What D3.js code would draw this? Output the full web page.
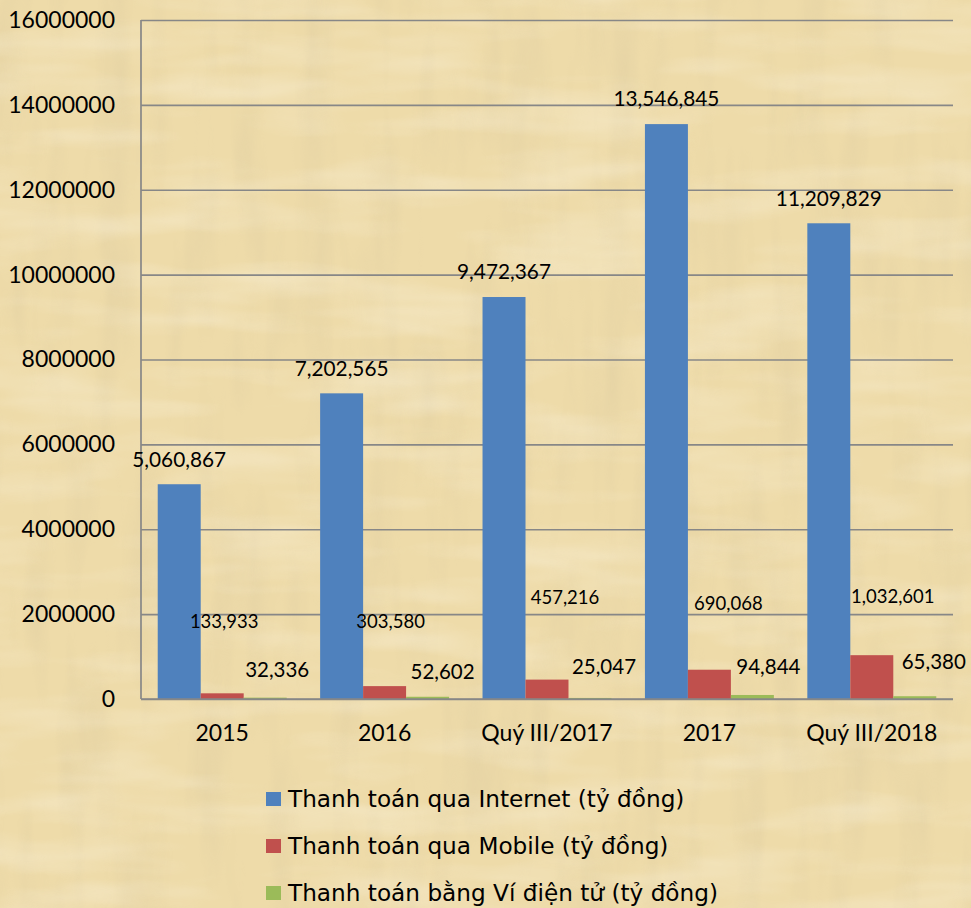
<!DOCTYPE html>
<html><head><meta charset="utf-8">
<script src="https://cdn.jsdelivr.net/npm/d3@7/dist/d3.min.js"></script>
<style>html,body{margin:0;padding:0;background:#EEDCAB;}svg{display:block;}</style>
</head><body>
<svg id="chart" width="971" height="908"></svg>
<script>
// ---- data ----
const categories = ["2015", "2016", "Quý III/2017", "2017", "Quý III/2018"];
const seriesNames = [
  "Thanh toán qua Internet (tỷ đồng)",
  "Thanh toán qua Mobile (tỷ đồng)",
  "Thanh toán bằng Ví điện tử (tỷ đồng)"
];
const internetValues = [5060867, 7202565, 9472367, 13546845, 11209829];
const mobileValues = [133933, 303580, 457216, 690068, 1032601];
const walletValues = [32336, 52602, 25047, 94844, 65380];
const yTicks = [0, 2000000, 4000000, 6000000, 8000000, 10000000, 12000000, 14000000, 16000000];

// ---- layout / style (not data) ----
const colors = ["#4F81BD", "#C0504D", "#9BBB59"];
// label nudges [dx from bar centre, dy relative to baseline]
const mobileLabelNudge = [[2, -77], [6, -77], [18, -101], [19, -95], [21, -102]];
const walletLabelNudge = [[12, -29], [15, -27], [14, -32], [16, -32], [19, -37]];

const svg = d3.select("#chart");
const W = 971, H = 908;
const plot = {left: 141, right: 953, top: 20, bottom: 699};

// background parchment
const defs = svg.append("defs");
const f = defs.append("filter").attr("id", "paper").attr("x", 0).attr("y", 0).attr("width", "100%").attr("height", "100%");
f.append("feTurbulence").attr("type", "fractalNoise").attr("baseFrequency", "0.03 0.006").attr("numOctaves", 3).attr("seed", 4).attr("result", "n1");
f.append("feColorMatrix").attr("in", "n1").attr("type", "matrix")
  .attr("values", "0 0 0 0 0.62  0 0 0 0 0.52  0 0 0 0 0.32  1.4 0 0 0 -0.62");
const f2 = defs.append("filter").attr("id", "paper2").attr("x", 0).attr("y", 0).attr("width", "100%").attr("height", "100%");
f2.append("feTurbulence").attr("type", "fractalNoise").attr("baseFrequency", "0.006 0.03").attr("numOctaves", 3).attr("seed", 9).attr("result", "n2");
f2.append("feColorMatrix").attr("in", "n2").attr("type", "matrix")
  .attr("values", "0 0 0 0 1  0 0 0 0 0.97  0 0 0 0 0.88  1.4 0 0 0 -0.6");

svg.append("rect").attr("width", W).attr("height", H).attr("fill", "#EEDBA9");
svg.append("rect").attr("width", W).attr("height", H).attr("filter", "url(#paper)").attr("opacity", 0.35);
svg.append("rect").attr("width", W).attr("height", H).attr("filter", "url(#paper2)").attr("opacity", 0.45);

// scales
const y = d3.scaleLinear().domain([0, 16000000]).range([plot.bottom, plot.top]);
const x0 = d3.scaleBand().domain(categories).range([plot.left, plot.right]).padding(0);
const bw = x0.bandwidth();
const x1 = d3.scaleBand().domain([0, 1, 2]).range([bw * 0.103, bw * 0.897]).padding(0);

const gridColor = "#878787";
// gridlines + y tick labels
const yAxis = d3.axisLeft(y).tickValues(yTicks).tickSize(-(plot.right - plot.left)).tickFormat(d => String(d)).tickPadding(26);
const gy = svg.append("g").attr("transform", `translate(${plot.left},0)`).call(yAxis);
gy.select(".domain").remove();
gy.selectAll(".tick line").attr("stroke", gridColor).attr("stroke-width", 1.7);
gy.selectAll(".tick text").attr("font-family", "Lato, sans-serif").attr("font-size", 23).attr("fill", "#000");

// left axis line
svg.append("line").attr("x1", plot.left).attr("x2", plot.left).attr("y1", plot.top).attr("y2", plot.bottom)
  .attr("stroke", gridColor).attr("stroke-width", 1.7);

// bars
const series = [internetValues, mobileValues, walletValues];
const groups = svg.append("g");
series.forEach((vals, s) => {
  groups.selectAll(null).data(vals).enter().append("rect")
    .attr("x", (d, i) => x0(categories[i]) + x1(s))
    .attr("width", x1.bandwidth())
    .attr("y", d => y(d))
    .attr("height", d => y(0) - y(d))
    .attr("fill", colors[s]);
});

// bottom axis line
svg.append("line").attr("x1", plot.left).attr("x2", plot.right).attr("y1", plot.bottom).attr("y2", plot.bottom)
  .attr("stroke", gridColor).attr("stroke-width", 1.7);

// category labels
const xAxis = d3.axisBottom(x0).tickSize(0).tickPadding(26);
const gx = svg.append("g").attr("transform", `translate(0,${plot.bottom})`).call(xAxis);
gx.select(".domain").remove();
gx.selectAll(".tick text").attr("font-family", "Lato, sans-serif").attr("font-size", 23).attr("fill", "#000");

// value labels
const fmt = d3.format(",");
const lab = svg.append("g").attr("font-family", "Lato, sans-serif").attr("fill", "#000").attr("text-anchor", "middle");
lab.selectAll(null).data(internetValues).enter().append("text")
  .attr("x", (d, i) => x0(categories[i]) + x1(0) + x1.bandwidth() / 2)
  .attr("y", d => y(d) - 25).attr("dy", "0.35em").attr("font-size", 20.8).text(d => fmt(d));
lab.selectAll(null).data(mobileValues).enter().append("text")
  .attr("x", (d, i) => x0(categories[i]) + x1(1) + x1.bandwidth() / 2 + mobileLabelNudge[i][0])
  .attr("y", (d, i) => y(0) + mobileLabelNudge[i][1]).attr("dy", "0.35em").attr("font-size", 18.5).text(d => fmt(d));
lab.selectAll(null).data(walletValues).enter().append("text")
  .attr("x", (d, i) => x0(categories[i]) + x1(2) + x1.bandwidth() / 2 + walletLabelNudge[i][0])
  .attr("y", (d, i) => y(0) + walletLabelNudge[i][1]).attr("dy", "0.35em").attr("font-size", 20.5).text(d => fmt(d));

// legend
const legend = svg.append("g").attr("transform", "translate(266,799)");
seriesNames.forEach((name, i) => {
  const g = legend.append("g").attr("transform", `translate(0,${i * 47})`);
  g.append("rect").attr("x", 0).attr("y", -7).attr("width", 15).attr("height", 14).attr("fill", colors[i]);
  g.append("text").attr("x", 22).attr("y", 0).attr("dy", "0.36em")
    .attr("font-family", "'DejaVu Sans', Verdana, sans-serif").attr("font-size", 23.2).attr("fill", "#000").text(name);
});
</script>
</body></html>
